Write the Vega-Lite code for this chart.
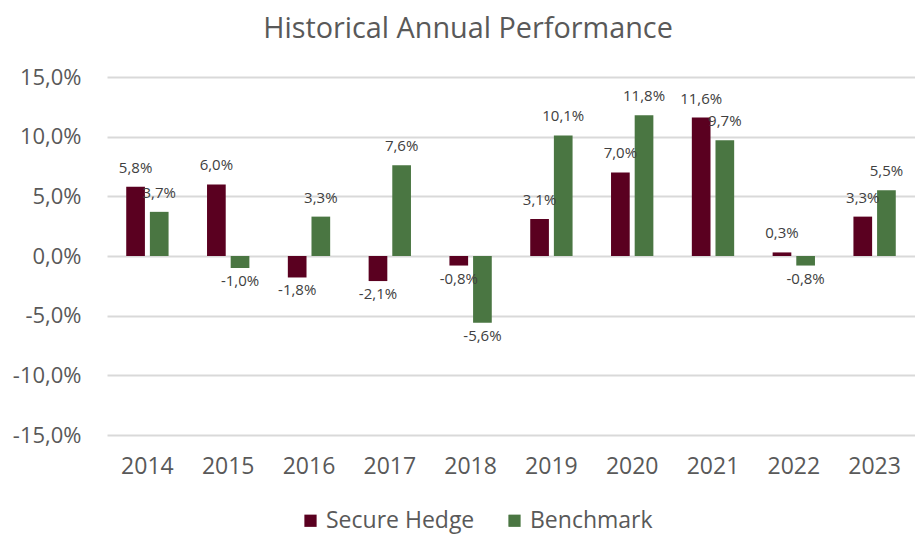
{
  "$schema": "https://vega.github.io/schema/vega-lite/v6.json",
  "width": 808,
  "height": 358,
  "padding": {"left": 12, "right": 0, "top": 15, "bottom": 2},
  "title": {"text": "Historical Annual Performance", "fontSize": 28.8, "font": "Open Sans", "fontWeight": "normal", "color": "#595959", "anchor": "middle", "dx": -43, "offset": 22},
  "config": {
    "locale": {"number": {"decimal": ",", "thousands": ".", "grouping": [3], "currency": ["", "€"], "minus": "-"}},
    "view": {"stroke": null},
    "font": "Open Sans"
  },
  "data": {"values": [
    {"year": "2014", "series": "Secure Hedge", "value": 0.058},
    {"year": "2014", "series": "Benchmark", "value": 0.037},
    {"year": "2015", "series": "Secure Hedge", "value": 0.060},
    {"year": "2015", "series": "Benchmark", "value": -0.010},
    {"year": "2016", "series": "Secure Hedge", "value": -0.018},
    {"year": "2016", "series": "Benchmark", "value": 0.033},
    {"year": "2017", "series": "Secure Hedge", "value": -0.021},
    {"year": "2017", "series": "Benchmark", "value": 0.076},
    {"year": "2018", "series": "Secure Hedge", "value": -0.008},
    {"year": "2018", "series": "Benchmark", "value": -0.056},
    {"year": "2019", "series": "Secure Hedge", "value": 0.031},
    {"year": "2019", "series": "Benchmark", "value": 0.101},
    {"year": "2020", "series": "Secure Hedge", "value": 0.070},
    {"year": "2020", "series": "Benchmark", "value": 0.118},
    {"year": "2021", "series": "Secure Hedge", "value": 0.116},
    {"year": "2021", "series": "Benchmark", "value": 0.097},
    {"year": "2022", "series": "Secure Hedge", "value": 0.003},
    {"year": "2022", "series": "Benchmark", "value": -0.008},
    {"year": "2023", "series": "Secure Hedge", "value": 0.033},
    {"year": "2023", "series": "Benchmark", "value": 0.055}
  ]},
  "encoding": {
    "x": {"field": "year", "type": "nominal", "title": null,
      "scale": {"paddingInner": 0.476, "paddingOuter": 0.238},
      "axis": {"labelAngle": 0, "labelFontSize": 23, "labelColor": "#595959", "labelPadding": 20, "ticks": false, "domain": false, "grid": false}},
    "xOffset": {"field": "series", "type": "nominal", "sort": ["Secure Hedge", "Benchmark"],
      "scale": {"paddingInner": 0.21, "paddingOuter": 0}},
    "y": {"field": "value", "type": "quantitative", "title": null,
      "scale": {"domain": [-0.15, 0.15], "nice": false},
      "axis": {"values": [-0.15, -0.1, -0.05, 0, 0.05, 0.1, 0.15], "format": ".1%", "labelFontSize": 22, "labelColor": "#595959", "labelPadding": 26, "ticks": false, "domain": false, "gridColor": "#d9d9d9", "gridWidth": 2}}
  },
  "layer": [
    {
      "mark": {"type": "bar"},
      "encoding": {
        "color": {"field": "series", "type": "nominal",
          "scale": {"domain": ["Secure Hedge", "Benchmark"], "range": ["#5a0020", "#4a7642"]},
          "legend": {"title": null, "orient": "none", "direction": "horizontal", "legendX": 192, "legendY": 432, "labelFontSize": 23, "labelColor": "#595959", "symbolType": "square", "symbolSize": 150, "symbolStrokeWidth": 0, "columnPadding": 28, "labelOffset": 4}}
      }
    },
    {
      "transform": [{"filter": "datum.value >= 0"}],
      "mark": {"type": "text", "baseline": "bottom", "dy": -11, "fontSize": 15, "color": "#404040"},
      "encoding": {"text": {"field": "value", "type": "quantitative", "format": ".1%"}}
    },
    {
      "transform": [{"filter": "datum.value < 0"}],
      "mark": {"type": "text", "baseline": "top", "dy": 6, "fontSize": 15, "color": "#404040"},
      "encoding": {"text": {"field": "value", "type": "quantitative", "format": ".1%"}}
    }
  ]
}
